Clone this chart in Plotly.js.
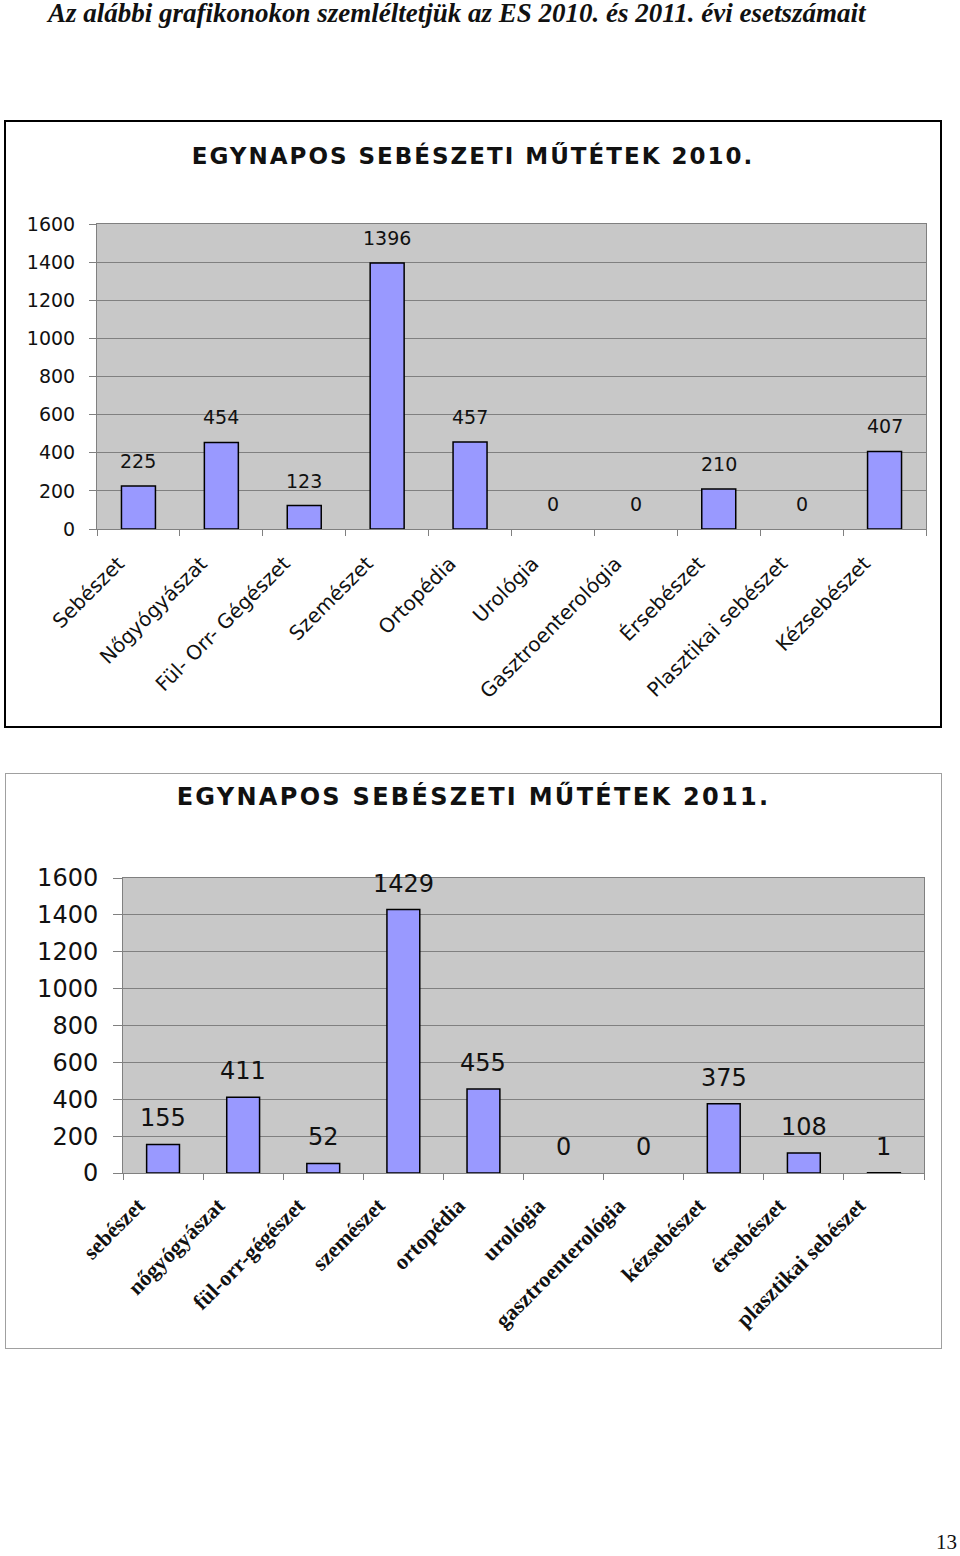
<!DOCTYPE html>
<html>
<head>
<meta charset="utf-8">
<script src="https://cdn.plot.ly/plotly-3.0.1.min.js"></script>
<style>
  body { margin: 0; background: #fff; width: 960px; height: 1556px; position: relative; overflow: hidden; }
  #header { position: absolute; left: 48px; top: -2px; line-height: 30px; font-family: "Liberation Serif", serif; font-weight: bold; font-style: italic; font-size: 27px; color: #111; white-space: nowrap; }
  #box1 { position: absolute; left: 4px; top: 120px; width: 934px; height: 604px; border: 2px solid #000; }
  #box2 { position: absolute; left: 5px; top: 773px; width: 935px; height: 574px; border: 1px solid #a0a0a0; }
  #page { position: absolute; left: 936px; top: 1530px; font-family: "Liberation Serif", serif; font-size: 21px; color: #111; }
  #chart1 .gtitle { letter-spacing: 2px; }
  #chart2 .gtitle { letter-spacing: 2.3px; }
</style>
</head>
<body>
<div id="header">Az alábbi grafikonokon szemléltetjük az ES 2010. és 2011. évi esetszámait</div>
<div id="box1"><div id="chart1"></div></div>
<div id="box2"><div id="chart2"></div></div>
<div id="page">13</div>
<script>
var cats2010 = ['Sebészet', 'Nőgyógyászat', 'Fül- Orr- Gégészet', 'Szemészet', 'Ortopédia', 'Urológia', 'Gasztroenterológia', 'Érsebészet', 'Plasztikai sebészet', 'Kézsebészet'];
var vals2010 = [225, 454, 123, 1396, 457, 0, 0, 210, 0, 407];

var cats2011 = ['sebészet', 'nőgyógyászat', 'fül-orr-gégészet', 'szemészet', 'ortopédia', 'urológia', 'gasztroenterológia', 'kézsebészet', 'érsebészet', 'plasztikai sebészet'];
var vals2011 = [155, 411, 52, 1429, 455, 0, 0, 375, 108, 1];

var yTicks = [0, 200, 400, 600, 800, 1000, 1200, 1400, 1600];

function labels(cats, vals, size, shift) {
    return cats.map(function (c, i) {
        return {
            x: c, y: vals[i], text: String(vals[i]),
            showarrow: false, yanchor: 'bottom', yshift: shift,
            font: { family: 'DejaVu Sans', size: size, color: '#111' }
        };
    });
}

function makeLayout(opts) {
    return {
        width: opts.w, height: opts.h,
        margin: opts.m,
        paper_bgcolor: 'rgba(0,0,0,0)',
        plot_bgcolor: '#c8c8c8',
        bargap: 0.59,
        showlegend: false,
        title: {
            text: opts.title, x: 0.5, xanchor: 'center',
            y: opts.titleY, yref: 'container', yanchor: 'middle',
            font: { family: 'DejaVu Sans', size: opts.titleSize, color: '#111', weight: 'bold' }
        },
        xaxis: {
            type: 'category',
            tickangle: -45,
            ticks: 'outside', tickson: 'boundaries', ticklen: 6, tickcolor: '#808080',
            showline: true, linecolor: '#808080', linewidth: 1, mirror: true,
            showgrid: false,
            tickfont: opts.xfont,
            ticklabelstandoff: opts.xstand,
            ticklabelshift: opts.xshift
        },
        yaxis: {
            range: [0, 1600],
            tickvals: yTicks,
            ticks: 'outside', ticklen: opts.ylen, tickcolor: '#808080',
            showline: true, linecolor: '#808080', linewidth: 1, mirror: true,
            gridcolor: '#808080', gridwidth: 1,
            zeroline: false,
            tickfont: { family: 'DejaVu Sans', size: opts.ysize, color: '#111' },
            ticklabelstandoff: opts.ystand
        },
        annotations: opts.ann
    };
}

function outline(vals) {
    return vals.map(function (v) { return v > 0 ? 1.5 : 0; });
}

var bar1 = {
    x: cats2010, y: vals2010, type: 'bar',
    marker: { color: '#9999ff', line: { color: '#000', width: outline(vals2010) } },
    hoverinfo: 'none'
};
var bar2 = {
    x: cats2011, y: vals2011, type: 'bar',
    marker: { color: '#9999ff', line: { color: '#000', width: outline(vals2011) } },
    hoverinfo: 'none'
};

Plotly.newPlot('chart1', [bar1], makeLayout({
    w: 934, h: 604,
    m: { l: 91, r: 14, t: 102, b: 197, pad: 0 },
    title: 'EGYNAPOS SEBÉSZETI MŰTÉTEK 2010.', titleY: 1 - 34 / 604, titleSize: 23,
    xfont: { family: 'DejaVu Sans', size: 20, color: '#111' }, xstand: 14, xshift: -20,
    ysize: 19, ylen: 7, ystand: 10,
    ann: labels(cats2010, vals2010, 19, 12)
}), { staticPlot: true });

Plotly.newPlot('chart2', [bar2], makeLayout({
    w: 935, h: 574,
    m: { l: 117, r: 17, t: 104, b: 175, pad: 0 },
    title: 'EGYNAPOS SEBÉSZETI MŰTÉTEK 2011.', titleY: 1 - 23 / 574, titleSize: 24,
    xfont: { family: 'Liberation Serif', size: 22, color: '#111', weight: 'bold' }, xstand: 10, xshift: -25,
    ysize: 24, ylen: 9, ystand: 10,
    ann: labels(cats2011, vals2011, 24, 10)
}), { staticPlot: true });
</script>
</body>
</html>
